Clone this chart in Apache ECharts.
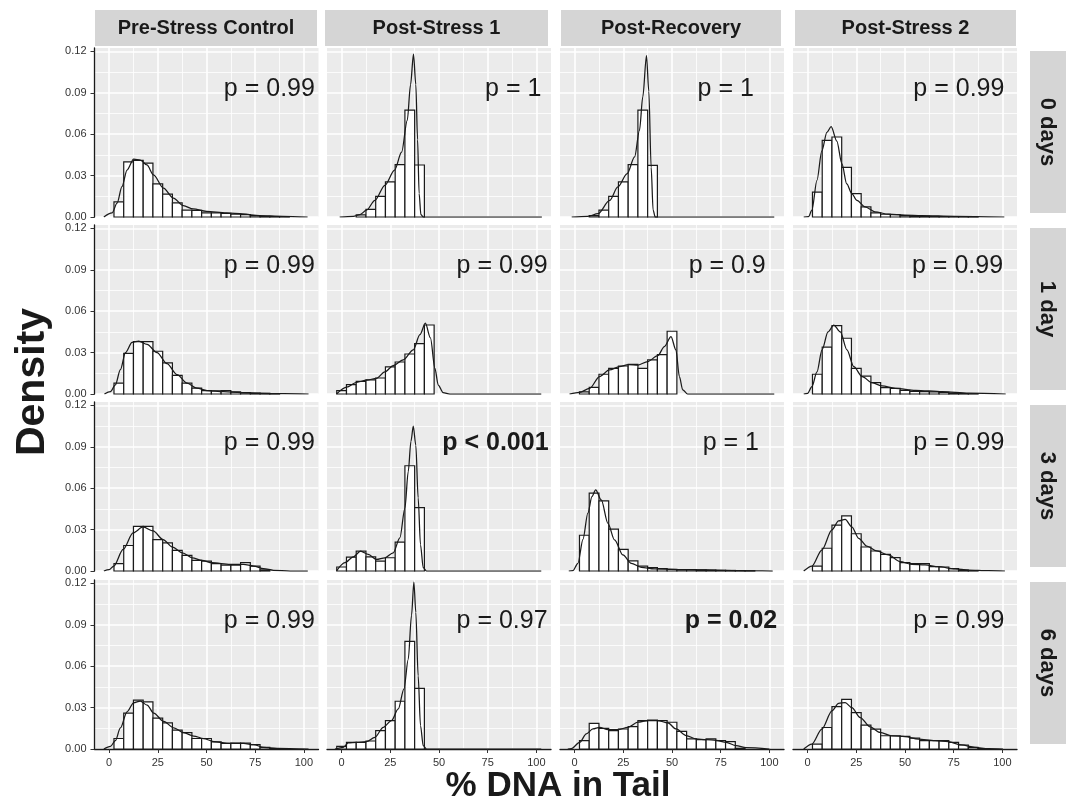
<!DOCTYPE html>
<html><head><meta charset="utf-8">
<script src="https://cdn.jsdelivr.net/npm/echarts@6/dist/echarts.min.js"></script>
<style>html,body{margin:0;padding:0;background:#fff}#chart{width:1066px;height:803px}</style>
</head><body><div id="chart"></div>
<script>
// ---------------- DATA ----------------
const colNames = ['Pre-Stress Control', 'Post-Stress 1', 'Post-Recovery', 'Post-Stress 2'];
const rowNames = ['0 days', '1 day', '3 days', '6 days'];
const xTicks = [0, 25, 50, 75, 100];
const xMinorTicks = [12.5, 37.5, 62.5, 87.5];
const yTicks = [0, 0.03, 0.06, 0.09, 0.12];
const yMinorTicks = [0.015, 0.045, 0.075, 0.105];
const binCenters = [0,5,10,15,20,25,30,35,40,45,50,55,60,65,70,75,80,85,90,95,100];

// histogram densities (one value per bin centre)
const h_0d_pre = [0,0.011,0.040,0.041,0.039,0.024,0.0166,0.0103,0.005,0.0048,0.003,0.003,0.0026,0.002,0.0017,0.001,0.0005,0.0003,0.0002,0,0];
const h_0d_ps1 = [0,0,0.0015,0.0055,0.015,0.0255,0.038,0.0775,0.0377,0,0,0,0,0,0,0,0,0,0,0,0];
const h_0d_rec = [0,0,0.001,0.005,0.015,0.0254,0.038,0.0775,0.0374,0,0,0,0,0,0,0,0,0,0,0,0];
const h_0d_ps2 = [0,0.018,0.0555,0.058,0.036,0.017,0.0074,0.003,0.002,0.0017,0.001,0.0007,0.0005,0.0004,0.0003,0.0002,0.0002,0.0001,0,0,0];
const h_1d_pre = [0,0.0079,0.0295,0.038,0.038,0.031,0.0226,0.0135,0.0079,0.0042,0.0025,0.0022,0.0025,0.0015,0.001,0.0007,0.0005,0.0002,0,0,0];
const h_1d_ps1 = [0.0024,0.0068,0.0092,0.0102,0.0116,0.0196,0.0232,0.029,0.0365,0.050,0,0,0,0,0,0,0,0,0,0,0];
const h_1d_rec = [0,0.0015,0.0048,0.0143,0.0186,0.0203,0.0215,0.0186,0.0247,0.0285,0.0455,0,0,0,0,0,0,0,0,0,0];
const h_1d_ps2 = [0,0.0143,0.034,0.0496,0.0404,0.0186,0.013,0.0082,0.0046,0.0041,0.0027,0.0019,0.0017,0.0015,0.0012,0.0007,0.0003,0.0002,0,0,0];
const h_3d_pre = [0,0.0053,0.0185,0.0324,0.0324,0.0228,0.0204,0.0149,0.0113,0.0077,0.0072,0.0053,0.0043,0.0043,0.006,0.0036,0.0008,0,0,0,0];
const h_3d_ps1 = [0.0029,0.01,0.0144,0.0103,0.0072,0.0096,0.021,0.0763,0.046,0,0,0,0,0,0,0,0,0,0,0,0];
const h_3d_rec = [0,0.0259,0.0564,0.0508,0.0303,0.0157,0.0073,0.0036,0.0024,0.0017,0.0012,0.001,0.001,0.0008,0.0007,0.0005,0.0004,0.0003,0.0002,0,0];
const h_3d_ps2 = [0,0.0036,0.0165,0.0332,0.04,0.027,0.0174,0.0145,0.0121,0.0097,0.006,0.0053,0.0053,0.0031,0.0029,0.0017,0.0007,0.0002,0,0,0];
const h_6d_pre = [0,0.0076,0.026,0.0354,0.0342,0.0224,0.0189,0.0137,0.0118,0.0076,0.0076,0.0052,0.004,0.0042,0.0042,0.0031,0.0012,0.0003,0,0,0];
const h_6d_ps1 = [0.0019,0.0048,0.0048,0.0058,0.0133,0.0206,0.0346,0.078,0.044,0,0,0,0,0,0,0,0,0,0,0,0];
const h_6d_rec = [0,0.006,0.0186,0.015,0.0133,0.0145,0.0162,0.0206,0.021,0.0206,0.0194,0.0128,0.0073,0.0068,0.0073,0.006,0.0053,0.0005,0,0,0];
const h_6d_ps2 = [0,0.0036,0.0156,0.0307,0.036,0.0264,0.0173,0.0144,0.0096,0.0096,0.0091,0.0079,0.006,0.006,0.006,0.0048,0.0029,0.0012,0.0003,0,0];

// density curves [x, density]
const d_0d_pre = [[-2.7,0],[1.5,0.0029],[4.1,0.01],[6.6,0.022],[9.2,0.034],[12.6,0.042],[16,0.0413],[19.4,0.0377],[22.8,0.0305],[27.9,0.0209],[33,0.0137],[38.1,0.0082],[43.2,0.0058],[50,0.0041],[60.2,0.0029],[68.7,0.0022],[77.2,0.001],[89.1,0.0005],[101.9,0]];
const d_0d_ps1 = [[-1,0],[6,0.0005],[9.4,0.0017],[12.8,0.005],[17.1,0.012],[22.2,0.023],[27.2,0.034],[30.8,0.047],[33.7,0.07],[35.4,0.096],[36.9,0.118],[38.1,0.096],[39,0.056],[39.8,0.017],[40.7,0.0017],[42,0],[60,0],[102.8,0]];
const d_0d_rec = [[-1.5,0],[6.8,0.0005],[12,0.0024],[18,0.012],[22.2,0.0218],[27,0.0315],[30.8,0.0435],[33.3,0.0628],[35,0.087],[36.9,0.117],[38.1,0.091],[39.3,0.036],[40.3,0.005],[41.4,0],[60,0],[102.5,0]];
const d_0d_ps2 = [[-2,0],[0.5,0.0002],[2.2,0.005],[4.8,0.0266],[7.3,0.048],[9.9,0.0614],[12.1,0.0655],[15,0.055],[17.6,0.0386],[20.1,0.024],[22.7,0.017],[25.3,0.012],[29.5,0.0074],[34.6,0.0038],[41.5,0.002],[50,0.0014],[58.5,0.001],[75.6,0.0005],[101,0]];
const d_1d_pre = [[-2.4,0],[0.7,0.0017],[3.2,0.0066],[5.8,0.0177],[8.4,0.03],[11.8,0.0374],[15.2,0.0384],[19.5,0.036],[24.6,0.03],[29.7,0.022],[34.9,0.014],[40,0.0079],[45.1,0.0042],[50.3,0.0025],[58.8,0.0017],[67.4,0.001],[77.6,0.0005],[89.6,0.0002],[102.4,0]];
const d_1d_ps1 = [[-2.6,0],[2.6,0.005],[7.7,0.0085],[12.8,0.01],[17.9,0.0114],[22.2,0.016],[26.5,0.0206],[31.6,0.0247],[36.8,0.032],[40.2,0.043],[43,0.0513],[45.6,0.0407],[47.9,0.0186],[49.6,0.0065],[52.1,0.001],[55.6,0],[70,0],[102.5,0]];
const d_1d_rec = [[-2.6,0],[2.6,0.0012],[7.7,0.004],[12.8,0.0126],[17.9,0.0174],[23,0.0198],[27.6,0.0213],[32.6,0.021],[37.5,0.0235],[42.7,0.0278],[46.1,0.0344],[49.5,0.0416],[52,0.032],[53.8,0.0126],[55.5,0.003],[58,0],[75,0],[102.5,0]];
const d_1d_ps2 = [[-2,0],[0,0.0005],[2.2,0.0053],[4.8,0.016],[7.4,0.032],[10.5,0.045],[13.4,0.05],[16.8,0.045],[20.2,0.032],[23.7,0.0198],[28,0.0126],[33.1,0.0082],[38.3,0.0058],[45.1,0.0041],[55.4,0.0027],[69.1,0.0017],[82.8,0.0007],[101.7,0]];
const d_3d_pre = [[-2.7,0],[0,0.001],[2.4,0.0036],[7.2,0.0156],[12.3,0.0276],[17.4,0.0319],[22.6,0.029],[27.7,0.0228],[32.6,0.0173],[37.6,0.0132],[42.7,0.0096],[47.7,0.0077],[52.8,0.006],[62.2,0.0048],[69,0.0048],[74.2,0.0036],[79.3,0.0017],[84.4,0.0005],[93,0],[102,0]];
const d_3d_ps1 = [[-2.6,0],[1.7,0.006],[6,0.0103],[9.7,0.0144],[13.7,0.012],[17.9,0.0084],[22.2,0.0096],[26.5,0.0132],[29.9,0.024],[32.5,0.0456],[34.2,0.072],[35.6,0.094],[36.8,0.105],[38.1,0.091],[39.3,0.053],[40.5,0.019],[41.9,0.0024],[43.6,0],[65,0],[102.5,0]];
const d_3d_rec = [[-3,0],[-0.9,0.0002],[1.7,0.0056],[4.3,0.023],[6.8,0.042],[8.9,0.054],[10.8,0.0588],[13.7,0.0515],[17.1,0.0346],[20.5,0.0225],[24.8,0.0116],[29.1,0.0056],[34.2,0.0027],[41,0.0015],[58.1,0.001],[75.2,0.0005],[92.3,0.0001],[101.7,0]];
const d_3d_ps2 = [[-2,0],[2.2,0.0036],[7.3,0.0152],[12.5,0.0298],[15.9,0.0363],[19.3,0.0375],[22.7,0.032],[26.2,0.0237],[30.4,0.018],[35.5,0.0145],[41.5,0.0116],[47.5,0.0068],[53.5,0.0048],[60.3,0.0044],[67.2,0.0031],[75.7,0.0015],[82.5,0.0007],[92.8,0.0002],[101.3,0]];
const d_6d_pre = [[-2.7,0],[0.7,0.0019],[3.2,0.006],[5.8,0.0153],[9.2,0.027],[12.6,0.0335],[16,0.0347],[19.5,0.0318],[22.9,0.026],[28,0.02],[33.2,0.0153],[38.3,0.0118],[43.4,0.0094],[48.5,0.0076],[53.7,0.0054],[60.5,0.0042],[69.1,0.004],[74.2,0.0031],[79.3,0.0012],[86.2,0.0005],[102.4,0]];
const d_6d_ps1 = [[-3.4,0],[0.9,0.0012],[3.4,0.0044],[7.7,0.0048],[12.8,0.0053],[17.1,0.0085],[21.4,0.0157],[25.6,0.0206],[29.1,0.029],[32,0.0436],[34.2,0.065],[35.9,0.097],[37.1,0.121],[38.1,0.099],[39.3,0.053],[40.5,0.017],[41.9,0.0024],[43.6,0],[65,0],[102.5,0]];
const d_6d_rec = [[-3.5,0],[-1.7,0.0003],[2.6,0.0048],[6,0.011],[9.4,0.0145],[12.8,0.0157],[17.1,0.014],[22.2,0.014],[27.4,0.0157],[32.5,0.0194],[37.6,0.0206],[42.7,0.0206],[47.9,0.0189],[52.1,0.0145],[57.3,0.0097],[62.4,0.0073],[67.5,0.0068],[72.6,0.0063],[77.8,0.0048],[82.9,0.0024],[88,0.001],[100,0]];
const d_6d_ps2 = [[-2,0],[2.2,0.0036],[7.3,0.0144],[12.5,0.0276],[15.9,0.0331],[19.3,0.0336],[22.7,0.03],[27,0.0228],[32.1,0.016],[37.2,0.012],[43.2,0.0096],[50,0.0089],[56.8,0.0072],[65.4,0.006],[72.2,0.0053],[79,0.0029],[85.8,0.0012],[92.8,0.0002],[100.3,0]];

// p-value annotations (row-major)
const pLabels = ['p = 0.99','p = 1','p = 1','p = 0.99',
                 'p = 0.99','p = 0.99','p = 0.9','p = 0.99',
                 'p = 0.99','p < 0.001','p = 1','p = 0.99',
                 'p = 0.99','p = 0.97','p = 0.02','p = 0.99'];
const pSignificant = [false,false,false,false, false,false,false,false, false,true,false,false, false,false,true,false];

// ---------------- LAYOUT / STYLE ----------------
const histPanels = [[h_0d_pre,h_0d_ps1,h_0d_rec,h_0d_ps2],[h_1d_pre,h_1d_ps1,h_1d_rec,h_1d_ps2],[h_3d_pre,h_3d_ps1,h_3d_rec,h_3d_ps2],[h_6d_pre,h_6d_ps1,h_6d_rec,h_6d_ps2]];
const densPanels = [[d_0d_pre,d_0d_ps1,d_0d_rec,d_0d_ps2],[d_1d_pre,d_1d_ps1,d_1d_rec,d_1d_ps2],[d_3d_pre,d_3d_ps1,d_3d_rec,d_3d_ps2],[d_6d_pre,d_6d_ps1,d_6d_rec,d_6d_ps2]];
const labelAnchorX = [105.9,102.8,92.3,101.3, 105.9,106,98.4,100.6, 105.9,106.5,94.9,101.3, 105.9,106,104.3,101.3];
const labelAnchorY = 0.0925;
const BIN_W = 5;
const X_MIN = -7.5, X_MAX = 107.5, Y_MIN = 0, Y_MAX = 0.1225;
const colLeft = [94.5, 327, 560, 793];
const rowTop = [48, 225, 402, 580];
const PW = 224, PH = 169;
const FONT = '"Liberation Sans", Arial, Helvetica, sans-serif';
const INK = '#1a1a1a';

const grids = [], xAxes = [], yAxes = [], series = [];
for (let r = 0; r < 4; r++) {
  for (let c = 0; c < 4; c++) {
    const i = r * 4 + c;
    const bottomRow = r === 3, leftCol = c === 0;
    grids.push({left: colLeft[c], top: rowTop[r], width: PW, height: PH, show: true,
      backgroundColor: '#EBEBEB', borderWidth: 0, containLabel: false, outerBoundsMode: 'none'});
    xAxes.push({gridIndex: i, type: 'value', min: X_MIN, max: X_MAX, position: 'bottom',
      axisLine: {show: bottomRow, onZero: false, lineStyle: {color: INK, width: 1.3}},
      axisTick: {show: bottomRow, customValues: xTicks, length: 4, lineStyle: {color: '#333', width: 1}},
      axisLabel: {show: bottomRow, customValues: xTicks, fontSize: 11, color: '#333', margin: 8, fontFamily: FONT},
      splitLine: {show: true, lineStyle: {color: '#ffffff', width: 1.6}}});
    xAxes.push({gridIndex: i, type: 'value', min: X_MIN, max: X_MAX, position: 'top',
      axisLine: {show: false}, axisTick: {show: false, customValues: xMinorTicks},
      axisLabel: {show: false, customValues: xMinorTicks},
      splitLine: {show: true, lineStyle: {color: '#ffffff', width: 0.8}}});
    yAxes.push({gridIndex: i, type: 'value', min: Y_MIN, max: Y_MAX, position: 'left',
      axisLine: {show: leftCol, onZero: false, lineStyle: {color: INK, width: 1.3}},
      axisTick: {show: leftCol, customValues: yTicks, length: 4, lineStyle: {color: '#333', width: 1}},
      axisLabel: {show: leftCol, customValues: yTicks, fontSize: 11, color: '#333', margin: 8, fontFamily: FONT,
        formatter: v => Number(v).toFixed(2)},
      splitLine: {show: true, lineStyle: {color: '#ffffff', width: 1.6}}});
    yAxes.push({gridIndex: i, type: 'value', min: Y_MIN, max: Y_MAX, position: 'right',
      axisLine: {show: false}, axisTick: {show: false, customValues: yMinorTicks},
      axisLabel: {show: false, customValues: yMinorTicks},
      splitLine: {show: true, lineStyle: {color: '#ffffff', width: 0.8}}});

    const hist = histPanels[r][c];
    series.push({type: 'custom', xAxisIndex: 2 * i, yAxisIndex: 2 * i, z: 2, silent: true,
      data: binCenters.map((b, k) => [b, hist[k]]),
      encode: {x: 0, y: 1},
      renderItem: function (params, api) {
        const ctr = api.value(0), h = api.value(1);
        if (!(h > 0)) return null;
        const p0 = api.coord([ctr - BIN_W / 2, 0]);
        const p1 = api.coord([ctr + BIN_W / 2, h]);
        return {type: 'rect', shape: {x: p0[0], y: p1[1], width: p1[0] - p0[0], height: p0[1] - p1[1]},
          style: {fill: '#ffffff', stroke: INK, lineWidth: 1.2}};
      }});
    series.push({type: 'line', xAxisIndex: 2 * i, yAxisIndex: 2 * i, z: 3, silent: true,
      data: densPanels[r][c], symbol: 'none', smooth: 0.3, smoothMonotone: 'x', clip: true,
      lineStyle: {color: INK, width: 1.25}});
    series.push({type: 'scatter', xAxisIndex: 2 * i, yAxisIndex: 2 * i, z: 4, silent: true,
      data: [[labelAnchorX[i], labelAnchorY]], symbolSize: 1, itemStyle: {color: 'rgba(0,0,0,0)'},
      labelLayout: {hideOverlap: false},
      label: {show: true, position: 'left', distance: 0, formatter: () => pLabels[i], opacity: 1,
        fontSize: 25, fontFamily: FONT, color: INK, fontWeight: pSignificant[i] ? 'bold' : 'normal'}});
  }
}

const stripX = [95, 325, 561, 795], stripW = [222, 223, 220, 221];
const graphics = [];
for (let c = 0; c < 4; c++) {
  graphics.push({type: 'rect', shape: {x: stripX[c], y: 10, width: stripW[c], height: 36}, style: {fill: '#D5D5D5'}, silent: true});
  graphics.push({type: 'text', x: stripX[c] + stripW[c] / 2, y: 28, silent: true,
    style: {text: colNames[c], font: 'bold 20px ' + FONT, fill: INK, textAlign: 'center', textVerticalAlign: 'middle'}});
}
const rowStripY = [51, 228, 405, 582];
for (let r = 0; r < 4; r++) {
  graphics.push({type: 'rect', shape: {x: 1030, y: rowStripY[r], width: 36, height: 162}, style: {fill: '#D5D5D5'}, silent: true});
  graphics.push({type: 'text', x: 1047, y: rowStripY[r] + 81, rotation: -Math.PI / 2, silent: true,
    style: {text: rowNames[r], font: 'bold 22px ' + FONT, fill: INK, textAlign: 'center', textVerticalAlign: 'middle'}});
}
graphics.push({type: 'text', x: 33, y: 382, rotation: Math.PI / 2, silent: true,
  style: {text: 'Density', font: 'bold 41px ' + FONT, fill: INK, textAlign: 'center', textVerticalAlign: 'middle'}});
graphics.push({type: 'text', x: 558, y: 786, silent: true,
  style: {text: '% DNA in Tail', font: 'bold 35px ' + FONT, fill: INK, textAlign: 'center', textVerticalAlign: 'middle'}});

const chart = echarts.init(document.getElementById('chart'), null, {renderer: 'canvas'});
chart.setOption({
  backgroundColor: '#ffffff',
  animation: false,
  grid: grids, xAxis: xAxes, yAxis: yAxes, series: series,
  graphic: graphics
});
</script></body></html>
